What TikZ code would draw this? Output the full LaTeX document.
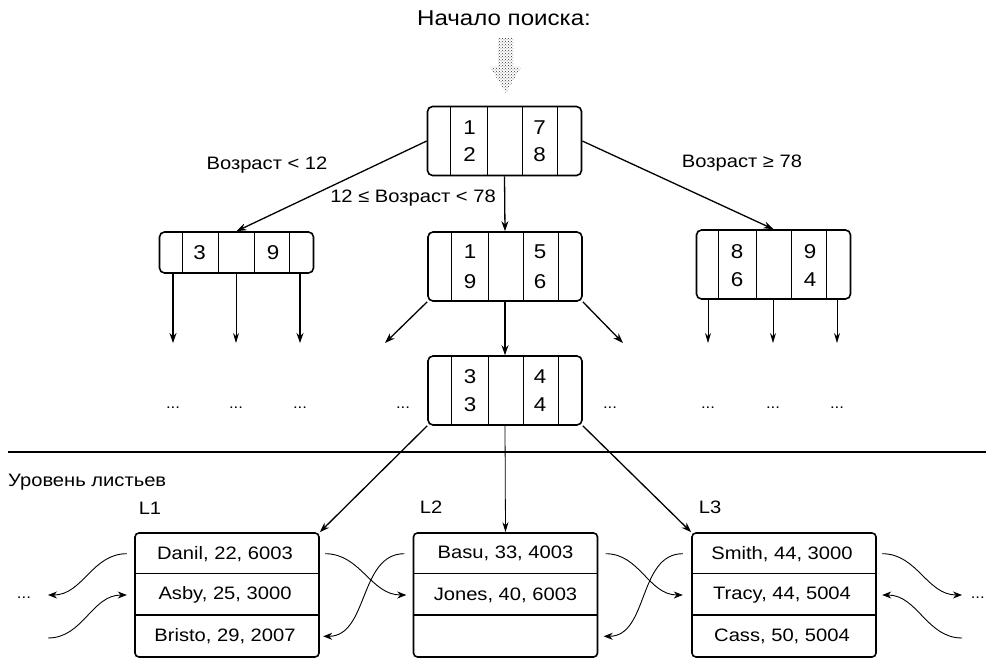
\documentclass[tikz,border=0pt]{standalone}
\usepackage{fontspec}
\setmainfont{Liberation Sans}[FakeStretch=1.12]
\usetikzlibrary{arrows.meta,patterns}
\begin{document}
\begin{tikzpicture}[x=1pt,y=-1pt,
  every node/.style={font=\fontsize{18}{21}\selectfont, inner sep=0pt},
  ibox/.style={draw, line width=1.6pt, rounded corners=5pt, minimum width=154pt, minimum height=69pt},
  ibox1/.style={ibox, minimum height=41pt},
  lbox/.style={draw, line width=1.6pt, rounded corners=4pt, minimum width=184pt, minimum height=124pt},
  divider/.style={line width=0.7pt},
  rowline/.style={line width=1.4pt},
  arr/.style={line width=1.3pt, -{Stealth[length=10pt,width=7pt]}},
  tarr/.style={line width=0.8pt, -{Stealth[length=10pt,width=6pt]}},
  carr/.style={line width=0.9pt, -{Stealth[length=9pt,width=7pt]}},
  rowtxt/.style={minimum width=184pt, minimum height=41pt},
  dig/.style={font=\fontsize{20}{22}\selectfont},
  dots/.style={font=\fontsize{15}{17}\selectfont}
]
\useasboundingbox (0,0) rectangle (986,658);

% title and start arrow
\node[font=\fontsize{21.5}{24}\selectfont] (title) at (504,18) {Начало поиска:};
\path[pattern=crosshatch dots, pattern color=black!80] (498,38) -- (513,38) -- (513,67) -- (521,67) -- (506,93) -- (490,67) -- (498,67) -- cycle;

% root
\node[ibox] (root) at (504.5,141) {};
\foreach \d in {-54,-17,18,53} \draw[divider] ([xshift=\d pt]root.north) -- ([xshift=\d pt]root.south);
\node[dig] (r1) at ([xshift=-35pt,yshift=13.5pt]root.center) {1};
\node[dig] (r2) at ([xshift=-35pt,yshift=-13.5pt]root.center) {2};
\node[dig] (r3) at ([xshift=35pt,yshift=13.5pt]root.center) {7};
\node[dig] (r4) at ([xshift=35pt,yshift=-13.5pt]root.center) {8};

% second level
\node[ibox1] (left) at (236.5,252.5) {};
\foreach \d in {-54,-18,18,53} \draw[divider] ([xshift=\d pt]left.north) -- ([xshift=\d pt]left.south);
\node[dig] (a1) at ([xshift=-37pt]left.center) {3};
\node[dig] (a2) at ([xshift=36.5pt]left.center) {9};

\node[ibox] (mid) at (505,266.5) {};
\foreach \d in {-54,-17,18,53} \draw[divider] ([xshift=\d pt]mid.north) -- ([xshift=\d pt]mid.south);
\node[dig] (b1) at ([xshift=-35pt,yshift=14.5pt]mid.center) {1};
\node[dig] (b2) at ([xshift=-35pt,yshift=-15pt]mid.center) {9};
\node[dig] (b3) at ([xshift=35pt,yshift=14.5pt]mid.center) {5};
\node[dig] (b4) at ([xshift=35pt,yshift=-15pt]mid.center) {6};

\node[ibox] (right) at (773.5,264.5) {};
\foreach \d in {-55,-17,18,53} \draw[divider] ([xshift=\d pt]right.north) -- ([xshift=\d pt]right.south);
\node[dig] (c1) at ([xshift=-36.5pt,yshift=12.5pt]right.center) {8};
\node[dig] (c2) at ([xshift=-36.5pt,yshift=-15.5pt]right.center) {6};
\node[dig] (c3) at ([xshift=36.5pt,yshift=12.5pt]right.center) {9};
\node[dig] (c4) at ([xshift=36.5pt,yshift=-15.5pt]right.center) {4};

% third level
\node[ibox] (lower) at (505,390.5) {};
\foreach \d in {-54,-17,18,53} \draw[divider] ([xshift=\d pt]lower.north) -- ([xshift=\d pt]lower.south);
\node[dig] (e1) at ([xshift=-35pt,yshift=13.5pt]lower.center) {3};
\node[dig] (e2) at ([xshift=-35pt,yshift=-14.5pt]lower.center) {3};
\node[dig] (e3) at ([xshift=35pt,yshift=13.5pt]lower.center) {4};
\node[dig] (e4) at ([xshift=35pt,yshift=-14.5pt]lower.center) {4};

% root arrows and labels
\draw[arr] (root.west) -- (left.north);
\draw[arr] (root.east) -- (right.north);
\draw[arr] (root.south) -- (mid.north);
\node (lab1) at (267,165) {Возраст < 12};
\node (lab2) at (413,198) {12 ≤ Возраст < 78};
\node (lab3) at (742,163) {Возраст ≥ 78};

% dangling arrows
\coordinate (la1) at (173,343);
\coordinate (la2) at (236,343);
\coordinate (la3) at (300,343);
\draw[arr] ([xshift=-63.5pt]left.south) -- (la1);
\draw[tarr] ([xshift=-0.5pt]left.south) -- (la2);
\draw[arr] ([xshift=63.5pt]left.south) -- (la3);
\coordinate (ra1) at (708,343);
\coordinate (ra2) at (773,343);
\coordinate (ra3) at (837,343);
\draw[tarr] ([xshift=-65.5pt]right.south) -- (ra1);
\draw[tarr] ([xshift=-0.5pt]right.south) -- (ra2);
\draw[tarr] ([xshift=63.5pt]right.south) -- (ra3);
\coordinate (ma1) at (385,343);
\coordinate (ma3) at (623,343);
\draw[arr] (mid.south west) -- (ma1);
\draw[arr] (mid.south) -- (lower.north);
\draw[arr] (mid.south east) -- (ma3);

% dots
\foreach \n/\x in {d1/173,d2/236,d3/300,d4/403,d5/610,d6/708,d7/773,d8/837}
  \node[dots] (\n) at (\x,408) {...};

% separator
\coordinate (sepL) at (8,452);
\coordinate (sepR) at (986,452);
\draw[line width=1.6pt] (sepL) -- (sepR);
\node[anchor=west] (lev) at (8,482) {Уровень листьев};
\node (t1) at (150,508) {L1};
\node (t2) at (431,507) {L2};
\node (t3) at (710,507) {L3};

% leaves
\foreach \L/\x in {L1/227,L2/505.5,L3/784}{
  \node[lbox] (\L) at (\x,595) {};
  \draw[rowline] ([yshift=-41.3pt]\L.north west) -- ([yshift=-41.3pt]\L.north east);
  \draw[rowline] ([yshift=-82.7pt]\L.north west) -- ([yshift=-82.7pt]\L.north east);
}
\node[rowtxt] (L1a) at (225,553.7) {Danil, 22, 6003};
\node[rowtxt] (L1b) at (225,595) {Asby, 25, 3000};
\node[rowtxt] (L1c) at (225,636.3) {Bristo, 29, 2007};
\node[rowtxt] (L2a) at (505.5,553.7) {Basu, 33, 4003};
\node[rowtxt] (L2b) at (505.5,595) {Jones, 40, 6003};
\node[rowtxt] (L2c) at (505.5,636.3) {};
\node[rowtxt] (L3a) at (782,553.7) {Smith, 44, 3000};
\node[rowtxt] (L3b) at (782,595) {Tracy, 44, 5004};
\node[rowtxt] (L3c) at (782,636.3) {Cass, 50, 5004};

\draw[arr] (lower.south west) -- (L1.north east);
\draw[tarr] (lower.south) -- (L2.north);
\draw[arr] (lower.south east) -- (L3.north west);

% linked list curves
\coordinate (lo1) at (48,595);
\coordinate (li1) at (48,638);
\coordinate (ro1) at (962,595);
\coordinate (ri1) at (962,638);
\draw[carr] ([xshift=-6pt]L1a.west) to[out=180,in=0] (lo1);
\draw[carr] (li1) to[out=0,in=180] ([xshift=-6pt]L1b.west);
\draw[carr] ([xshift=8pt]L1a.east) to[out=0,in=180] ([xshift=-7pt]L2b.west);
\draw[carr] ([xshift=-9pt]L2a.west) to[out=180,in=0] ([xshift=6pt]L1c.east);
\draw[carr] ([xshift=8pt]L2a.east) to[out=0,in=180] ([xshift=-7pt]L3b.west);
\draw[carr] ([xshift=-7pt]L3a.west) to[out=180,in=0] ([xshift=6pt]L2c.east);
\draw[carr] ([xshift=8pt]L3a.east) to[out=0,in=180] (ro1);
\draw[carr] (ri1) to[out=180,in=0] ([xshift=8pt]L3b.east);
\node[dots] (dl) at (24,598) {...};
\node[dots,anchor=east] (dr) at (985,598) {...};
\end{tikzpicture}
\end{document}
